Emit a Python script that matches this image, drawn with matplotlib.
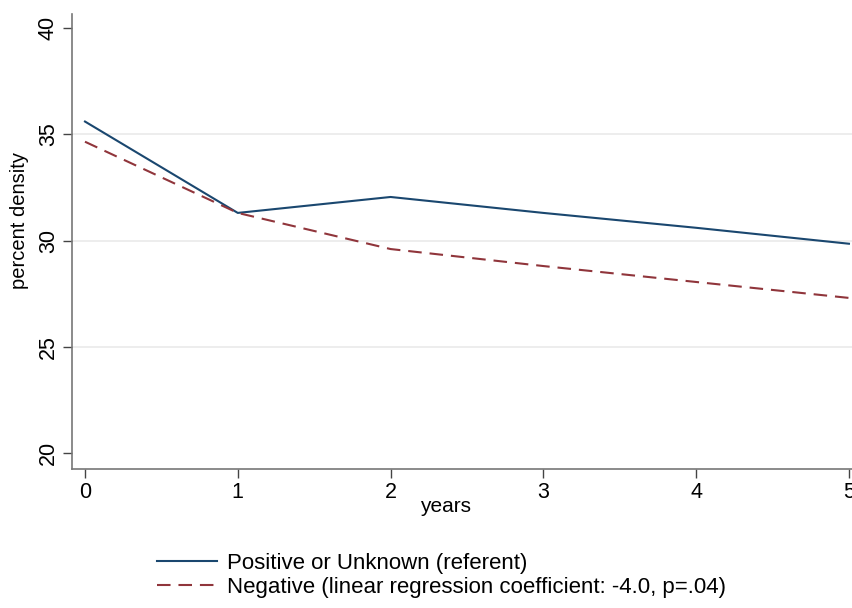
import matplotlib
matplotlib.use("Agg")
import matplotlib.pyplot as plt

plt.rcParams['font.family'] = ['Liberation Sans', 'DejaVu Sans']

years = [0, 1, 2, 3, 4, 5]
positive_unknown = [35.6, 31.3, 32.05, 31.3, 30.6, 29.85]
negative = [34.65, 31.3, 29.6, 28.8, 28.05, 27.3]
y_ticks = [20, 25, 30, 35, 40]
labels = ["Positive or Unknown (referent)",
          "Negative (linear regression coefficient: -4.0, p=.04)"]

navy = "#1a476f"
maroon = "#90353b"
axis_grey = "#777777"

W, H = 852, 608
fig = plt.figure(figsize=(W / 100, H / 100), dpi=100)
ax = fig.add_axes([72 / W, 1 - 469 / H, (W - 72) / W, (469 - 14) / H])

ax.plot(years, positive_unknown, color=navy, lw=1.5, label=labels[0])
ax.plot(years, negative, color=maroon, lw=1.5, dashes=(6.5, 3.8), label=labels[1])

ax.set_xlim(-0.085, 5.02)
ax.set_ylim(19.25, 40.66)
ax.set_xticks(years)
ax.set_yticks(y_ticks)
for v in y_ticks[1:-1]:
    ax.axhline(v, color="#eaeaea", lw=1.2, zorder=0)

for s in ("top", "right"):
    ax.spines[s].set_visible(False)
for s in ("left", "bottom"):
    ax.spines[s].set_color(axis_grey)
    ax.spines[s].set_linewidth(1.2)

ax.tick_params(axis="both", length=6.5, width=1.0, color="#444444",
               labelsize=15.5, pad=3)
for lab in ax.get_yticklabels():
    lab.set_rotation(90)
    lab.set_va("center")

fig.text(446 / W, 1 - 507 / H, "years", ha="center", va="center",
         fontsize=15)
fig.text(20 / W, 1 - 220 / H, "percent density", rotation=90,
         ha="center", va="center", fontsize=14.5)

leg = fig.legend(loc="upper left", bbox_to_anchor=(146 / W, 1 - 542 / H),
                 frameon=False, fontsize=16, handlelength=2.7,
                 handletextpad=0.45, labelspacing=0.12, borderpad=0)

fig.savefig("out.png", dpi=100)
